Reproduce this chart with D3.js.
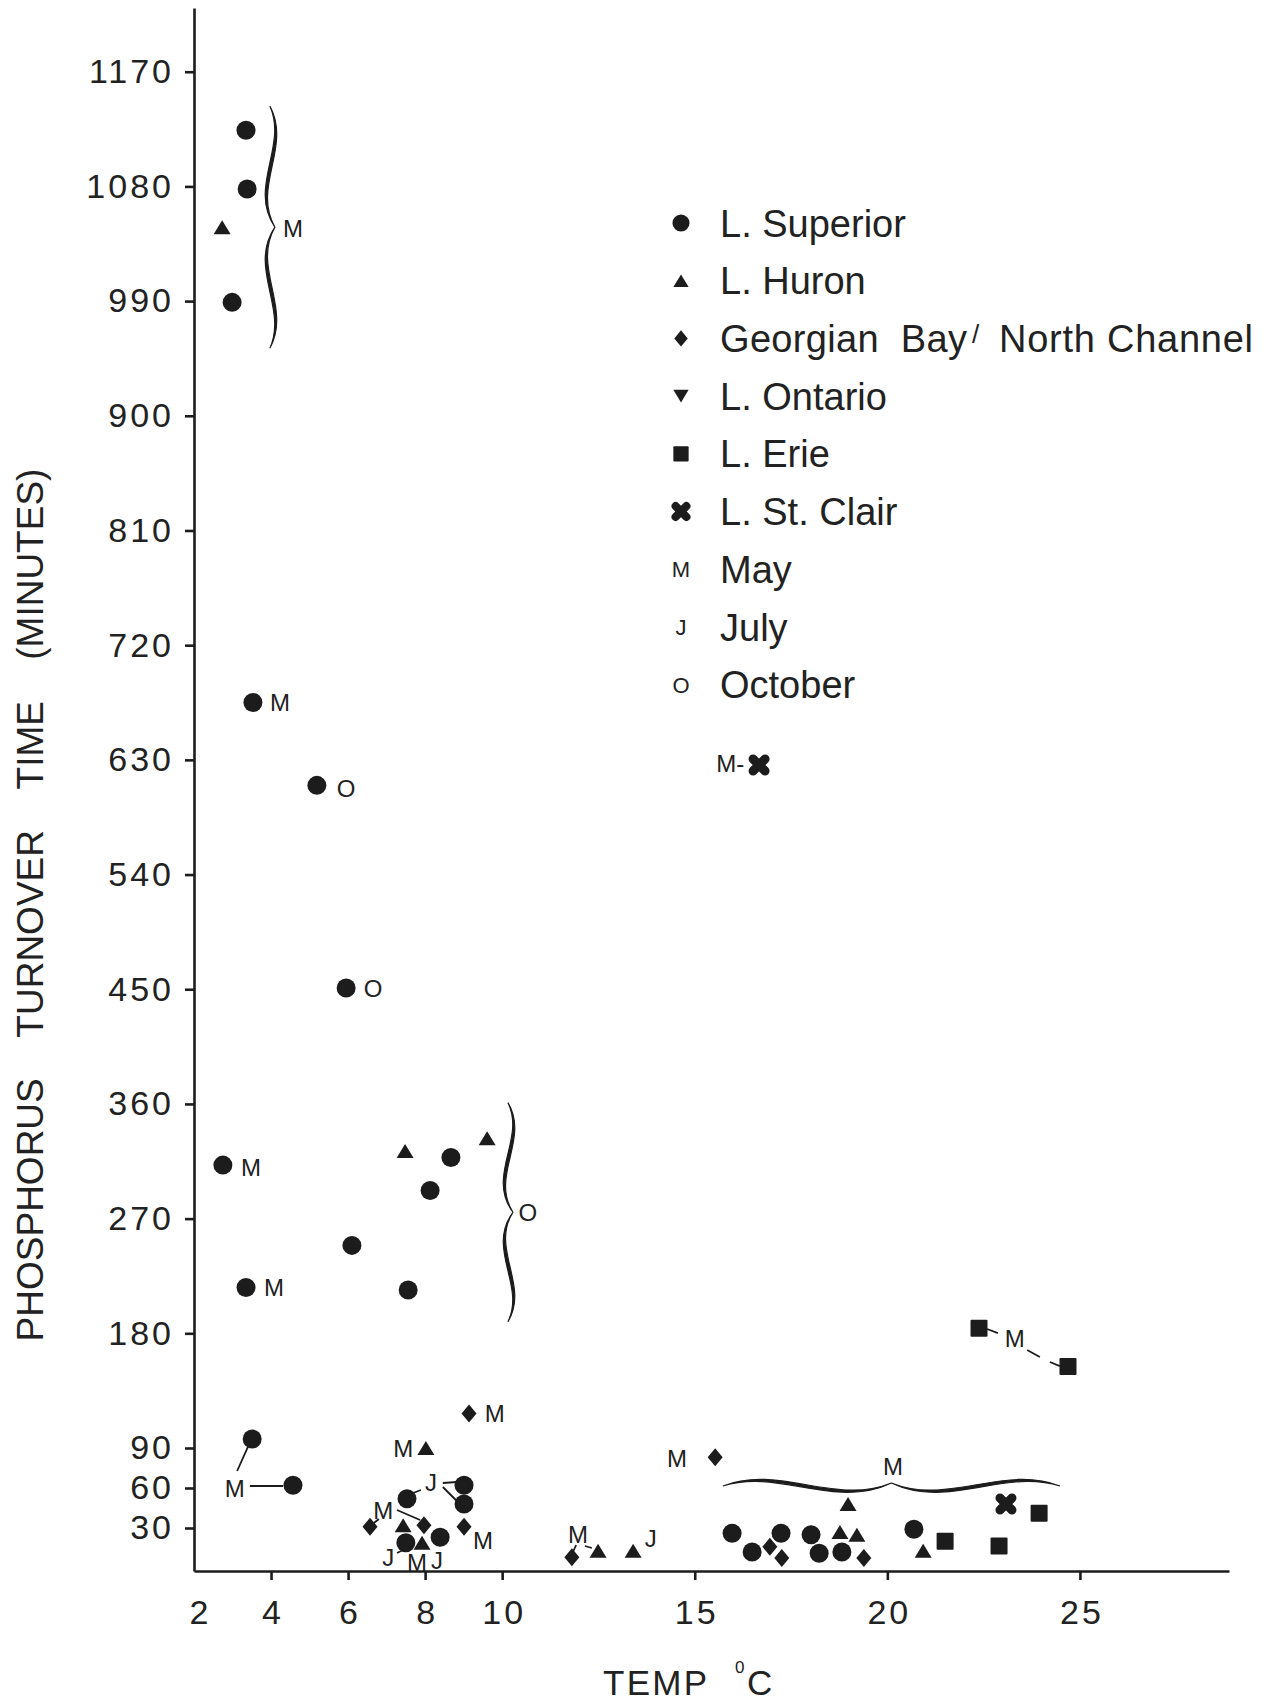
<!DOCTYPE html>
<html>
<head>
<meta charset="utf-8">
<script src="https://cdn.jsdelivr.net/npm/d3@7"></script>
<style>
  body { margin: 0; background: #fff; }
  text { font-family: "Liberation Sans", Arial, Helvetica, sans-serif; fill: #222; }
</style>
</head>
<body>
<svg id="chart"></svg>
<script>
// [temperature °C, phosphorus turnover time (minutes)]
const superior = [[3.35,1124],[3.38,1078],[2.99,989],[3.53,675],[5.19,610],[5.95,451],
  [2.75,312],[3.35,216],[8.67,318],[8.13,292],[6.10,249],[7.56,214],[3.51,97],[4.57,62],
  [9.01,62],[9.01,48],[7.53,52],[8.39,23],[7.50,19],[15.97,26],[16.49,12],[17.24,26],
  [18.02,25],[18.23,11],[18.82,12],[20.69,29]];
const huron = [[2.73,1048],[7.48,323],[9.61,333],[8.02,90],[7.43,32],[7.92,19],[12.49,13],
  [13.40,13],[18.98,48],[18.77,27],[19.21,25],[20.93,13]];
const georgian = [[9.14,117],[6.57,31],[7.97,32],[9.01,31],[11.81,8],[15.53,83],[16.95,16],
  [17.26,7.5],[19.39,7.5]];
const ontario = [];
const erie = [[21.50,20],[22.90,16.5],[23.94,41],[22.38,184],[24.69,154]];
const stClair = [[16.67,626],[23.08,48]];

// month letters [text, temp, minutes]
const monthLabels = [
  ["M",4.57,1047],["M",4.23,675],["O",5.95,608],["O",6.65,451],["M",3.48,310],["M",4.08,216],
  ["O",10.67,275],["M",3.06,60],["M",9.81,117],["M",7.43,90],["J",8.15,64],["M",6.91,43],
  ["M",9.50,21],["J",7.04,8],["M",7.79,4.5],["J",8.31,6],["M",11.97,25],["J",13.86,22],
  ["M",14.54,82],["M",20.15,76],["M",23.31,176],["M-",15.92,627]
];

// leader lines between letters and points
const leaders = [
  [[3.45,61.5],[4.31,61.5]], [[3.12,72.75],[3.40,90.8]],
  [[8.46,63.75],[8.83,64.5]], [[8.46,60.75],[8.85,49.5]], [[7.69,56.25],[7.89,58.5]],
  [[7.27,43.5],[7.87,36]], [[6.80,36.75],[6.67,33.75]], [[7.27,11.25],[7.43,13.5]],
  [[11.92,17.25],[11.84,12]], [[12.15,16.5],[12.33,15]],
  [[22.59,183.4],[22.87,180.2]], [[23.63,166.9],[23.96,161.4]], [[24.22,157.5],[24.48,154.3]]
];

// curly braces grouping points
const braces = [
  {from:[3.97,1143], to:[3.97,953]},
  {from:[10.15,361], to:[10.15,189]},
  {from:[15.73,61.5], to:[24.48,61.5]}
];

const xTicks = [2,4,6,8,10,15,20,25];
const yTicks = [30,60,90,180,270,360,450,540,630,720,810,900,990,1080,1170];

const legendItems = [
  {shape:"circle", label:"L. Superior"},
  {shape:"triangle", label:"L. Huron"},
  {shape:"diamond", label:"Georgian  Bay"},
  {shape:"triangleDown", label:"L. Ontario"},
  {shape:"square", label:"L. Erie"},
  {shape:"cross", label:"L. St. Clair"},
  {letter:"M", label:"May"},
  {letter:"J", label:"July"},
  {letter:"O", label:"October"}
];

const width = 1270, height = 1701;
const ink = "#1c1c1c";

const svg = d3.select("#chart").attr("width", width).attr("height", height);
svg.append("rect").attr("width", width).attr("height", height).attr("fill", "#fff");

const x = d3.scaleLinear().domain([2, 28.87]).range([194, 1229]);
const y = d3.scaleLinear().domain([-2.25, 90, 1220]).range([1571, 1448, 8]);

// axes
const xAxis = svg.append("g")
  .attr("transform", `translate(0,${y.range()[0]})`)
  .call(d3.axisBottom(x).tickValues(xTicks).tickSize(9).tickPadding(20).tickSizeOuter(0));
xAxis.selectAll(".tick").filter((d) => d === 2).select("line").attr("y2", 0);

const yAxis = svg.append("g")
  .attr("transform", `translate(${x(2)},0)`)
  .call(d3.axisLeft(y).tickValues(yTicks).tickFormat(d3.format("d"))
    .tickSize(9).tickPadding(11).tickSizeOuter(0));

svg.selectAll(".domain, .tick line").attr("stroke", ink).attr("stroke-width", 2.6);
svg.selectAll(".tick text")
  .style("font-size", "34px")
  .style("letter-spacing", "3px")
  .attr("fill", "#222");
xAxis.selectAll(".tick text").attr("dx", (d) => (d === 2 ? "6px" : "1.5px"));

// axis titles
svg.append("text")
  .attr("transform", "translate(43,905) rotate(-90)")
  .attr("text-anchor", "middle")
  .style("font-size", "37px")
  .style("word-spacing", "31px")
  .text("PHOSPHORUS TURNOVER TIME (MINUTES)");

svg.append("text").attr("x", 603).attr("y", 1695)
  .attr("textLength", 104).attr("lengthAdjust", "spacing")
  .style("font-size", "35px").text("TEMP");
svg.append("text").attr("x", 735).attr("y", 1673).style("font-size", "17px").text("0");
svg.append("text").attr("x", 747).attr("y", 1695).style("font-size", "35px").text("C");

// marker shapes
const drawMark = (g, shape, cx, cy, k = 1) => {
  if (shape === "circle") {
    g.append("circle").attr("cx", cx).attr("cy", cy).attr("r", 9.5 * k).attr("fill", ink);
  } else if (shape === "triangle" || shape === "triangleDown") {
    const w = 8.5 * k, h = 7 * k, s = shape === "triangle" ? 1 : -1;
    g.append("path")
      .attr("d", `M${cx},${cy - s * h}L${cx + w},${cy + s * h}L${cx - w},${cy + s * h}Z`)
      .attr("fill", ink);
  } else if (shape === "diamond") {
    const w = 7.5 * k, h = 9 * k;
    g.append("path")
      .attr("d", `M${cx},${cy - h}L${cx + w},${cy}L${cx},${cy + h}L${cx - w},${cy}Z`)
      .attr("fill", ink);
  } else if (shape === "square") {
    const s = 8.5 * k;
    g.append("rect").attr("x", cx - s).attr("y", cy - s).attr("width", 2 * s).attr("height", 2 * s)
      .attr("rx", 1).attr("fill", ink);
  } else if (shape === "cross") {
    const d = 6 * k;
    g.append("path")
      .attr("d", `M${cx - d},${cy - d}L${cx + d},${cy + d}M${cx - d},${cy + d}L${cx + d},${cy - d}`)
      .attr("stroke", ink).attr("stroke-width", 9 * k).attr("stroke-linecap", "round");
  }
};

const series = [
  {data: superior, shape: "circle"},
  {data: huron, shape: "triangle"},
  {data: georgian, shape: "diamond"},
  {data: ontario, shape: "triangleDown"},
  {data: erie, shape: "square"},
  {data: stClair, shape: "cross"}
];

const marks = svg.append("g");
series.forEach((s) => {
  s.data.forEach((d) => drawMark(marks, s.shape, x(d[0]), y(d[1])));
});

// leader lines
svg.append("g").selectAll("line")
  .data(leaders)
  .enter()
  .append("line")
  .attr("x1", (d) => x(d[0][0])).attr("y1", (d) => y(d[0][1]))
  .attr("x2", (d) => x(d[1][0])).attr("y2", (d) => y(d[1][1]))
  .attr("stroke", ink).attr("stroke-width", 1.8);

// month letters
svg.append("g").selectAll("text")
  .data(monthLabels)
  .enter()
  .append("text")
  .attr("x", (d) => x(d[1])).attr("y", (d) => y(d[2]))
  .attr("dy", "0.36em")
  .attr("text-anchor", "middle")
  .style("font-size", "24px")
  .text((d) => d[0]);

// braces: ends, then tip pushed to the side, thick in the arms
const bracePath = (p0, p1, a, c1, c2, k) => {
  const dx = p1[0] - p0[0], dy = p1[1] - p0[1], L = Math.hypot(dx, dy);
  const ux = dx / L, uy = dy / L, nx = uy, ny = -ux, h = L / 2;
  const pt = (s, w) => [p0[0] + ux * s + nx * w, p0[1] + uy * s + ny * w];
  const p = d3.path();
  p.moveTo(...pt(0, 0));
  p.bezierCurveTo(...pt(h / 3, c1), ...pt(2 * h / 3, c2), ...pt(h, a));
  p.bezierCurveTo(...pt(L - 2 * h / 3, c2), ...pt(L - h / 3, c1), ...pt(L, 0));
  p.bezierCurveTo(...pt(L - h / 3, c1 - k), ...pt(L - 2 * h / 3, c2 - k), ...pt(h, a));
  p.bezierCurveTo(...pt(2 * h / 3, c2 - k), ...pt(h / 3, c1 - k), ...pt(0, 0));
  p.closePath();
  return p.toString();
};

svg.append("g").selectAll("path")
  .data(braces)
  .enter()
  .append("path")
  .attr("d", (d, i) => {
    const p0 = [x(d.from[0]), y(d.from[1])], p1 = [x(d.to[0]), y(d.to[1])];
    return i === 2 ? bracePath(p0, p1, 3, 22, -20, 4) : bracePath(p0, p1, 5, 22, -18, 4);
  })
  .attr("fill", ink).attr("stroke", ink).attr("stroke-width", 1.2);

// legend
const legend = svg.append("g");
const rowY = (i) => 223 + i * 57.7;
legendItems.forEach((d, i) => {
  const cy = rowY(i);
  if (d.shape) {
    drawMark(legend, d.shape, 681, cy, 0.9);
  } else {
    legend.append("text").attr("x", 681).attr("y", cy).attr("dy", "0.36em")
      .attr("text-anchor", "middle").style("font-size", "22px").text(d.letter);
  }
  const t = legend.append("text").attr("x", 720).attr("y", cy).attr("dy", "0.36em")
    .style("font-size", "38px").style("white-space", "pre");
  if (d.shape === "diamond") {
    t.append("tspan").attr("textLength", 247).attr("lengthAdjust", "spacing").text(d.label);
    t.append("tspan").attr("x", 972).attr("dy", "-9").style("font-size", "26px").text("/");
    t.append("tspan").attr("x", 999).attr("dy", "9")
      .attr("textLength", 254).attr("lengthAdjust", "spacing").text("North Channel");
  } else {
    t.text(d.label);
  }
});
</script>
</body>
</html>
